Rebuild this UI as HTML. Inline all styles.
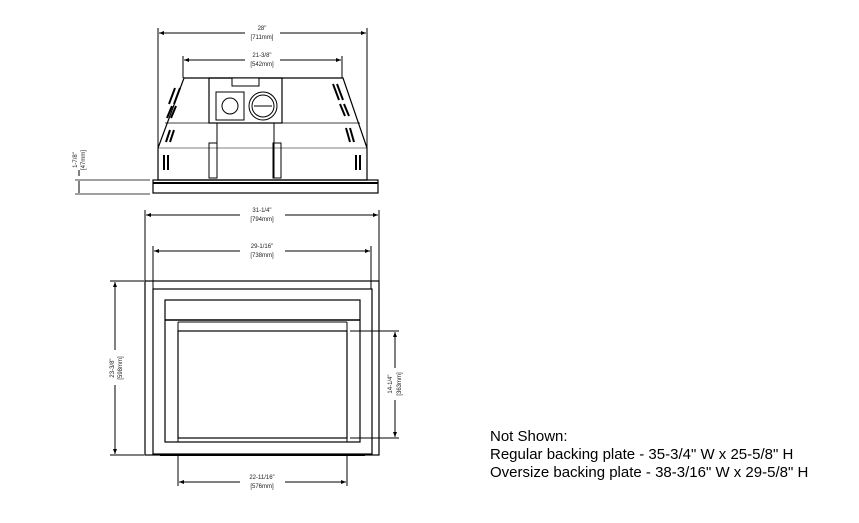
<!DOCTYPE html>
<html><head><meta charset="utf-8"><style>
html,body{margin:0;padding:0;background:#fff;}
svg{display:block}
.t{font-family:"Liberation Sans",sans-serif;font-size:6px;fill:#222}
.n{font-family:"Liberation Sans",sans-serif;font-size:15px;fill:#000}
</style></head><body>
<svg width="859" height="523" viewBox="0 0 859 523" xmlns="http://www.w3.org/2000/svg">
<defs>
<marker id="a" markerWidth="6" markerHeight="6" refX="5" refY="3" orient="auto-start-reverse" markerUnits="userSpaceOnUse"><path d="M0,1 L5,3 L0,5z" fill="#000"/></marker>
</defs>
<g stroke="#000" fill="none" stroke-width="1">
<line x1="158" y1="28" x2="158" y2="148"/><line x1="367" y1="28" x2="367" y2="148"/>
<line x1="159" y1="33" x2="245" y2="33" marker-start="url(#a)"/><line x1="280" y1="33" x2="366" y2="33" marker-end="url(#a)"/>
<line x1="183" y1="56" x2="183" y2="78"/><line x1="342" y1="56" x2="342" y2="78"/>
<line x1="184" y1="60" x2="245" y2="60" marker-start="url(#a)"/><line x1="280" y1="60" x2="341" y2="60" marker-end="url(#a)"/>
<path d="M184,78 L343,78 L367,148 L367,180 L158,180 L158,148 Z" stroke-width="1.2"/>
<line x1="158" y1="148" x2="367" y2="148" stroke-width="0.6"/>
<line x1="165" y1="123" x2="360" y2="123" stroke-width="0.8"/>
<rect x="153" y="180" width="225" height="13" stroke-width="1.2"/>
<line x1="153" y1="183" x2="378" y2="183" stroke-width="2"/>
<rect x="209" y="78" width="73" height="45" stroke-width="1.2"/>
<rect x="232" y="78" width="27" height="8" fill="#fff"/>
<rect x="216" y="92" width="28" height="28"/>
<circle cx="230" cy="106" r="8"/><circle cx="263" cy="106" r="14"/><circle cx="263" cy="106" r="11"/>
<line x1="254" y1="106" x2="272" y2="106"/>
<rect x="209" y="143" width="8" height="35"/><rect x="273" y="143" width="8" height="35"/>
<line x1="217" y1="123" x2="217" y2="178"/><line x1="274" y1="123" x2="274" y2="178"/>
<g stroke-width="2">
<line x1="175" y1="88" x2="169" y2="104"/><line x1="180" y1="88" x2="174" y2="104"/>
<line x1="172" y1="106" x2="167" y2="118"/><line x1="176" y1="106" x2="171" y2="118"/>
<line x1="170" y1="130" x2="166" y2="142"/><line x1="174" y1="130" x2="170" y2="142"/>
<line x1="164" y1="155" x2="164" y2="170"/><line x1="168" y1="155" x2="168" y2="170"/>
<line x1="333" y1="84" x2="339" y2="100"/><line x1="337" y1="84" x2="343" y2="100"/>
<line x1="340" y1="104" x2="345" y2="116"/><line x1="344" y1="104" x2="349" y2="116"/>
<line x1="346" y1="128" x2="350" y2="142"/><line x1="350" y1="128" x2="354" y2="142"/>
<line x1="356" y1="155" x2="356" y2="170"/><line x1="360" y1="155" x2="360" y2="170"/>
</g>
<line x1="75" y1="180" x2="150" y2="180" stroke-width="0.7"/><line x1="75" y1="194" x2="150" y2="194" stroke-width="0.7"/>
<line x1="79" y1="181" x2="79" y2="193"/>
<line x1="79" y1="170" x2="79" y2="176"/>
<line x1="145" y1="210" x2="145" y2="281"/><line x1="379" y1="210" x2="379" y2="281"/>
<line x1="146" y1="215" x2="240" y2="215" marker-start="url(#a)"/><line x1="285" y1="215" x2="378" y2="215" marker-end="url(#a)"/>
<line x1="153" y1="246" x2="153" y2="289"/><line x1="371" y1="246" x2="371" y2="289"/>
<line x1="154" y1="251" x2="240" y2="251" marker-start="url(#a)"/><line x1="285" y1="251" x2="370" y2="251" marker-end="url(#a)"/>
<rect x="145" y="281" width="234" height="174" stroke-width="1.2"/>
<rect x="153" y="289" width="219" height="165" stroke-width="1.2"/>
<rect x="165" y="300" width="195" height="142" stroke-width="1.2"/>
<line x1="165" y1="320" x2="360" y2="320" stroke-width="1.5"/>
<line x1="178" y1="322" x2="347" y2="322"/>
<rect x="178" y="331" width="169" height="107" stroke-width="1.2"/>
<line x1="178" y1="322" x2="178" y2="442"/><line x1="347" y1="322" x2="347" y2="442"/>
<line x1="160" y1="455" x2="365" y2="455" stroke-width="2"/>
<line x1="110" y1="281" x2="144" y2="281"/><line x1="110" y1="455" x2="144" y2="455"/>
<line x1="115" y1="282" x2="115" y2="350" marker-start="url(#a)"/><line x1="115" y1="385" x2="115" y2="454" marker-end="url(#a)"/>
<line x1="350" y1="331" x2="399" y2="331"/><line x1="350" y1="438" x2="399" y2="438"/>
<line x1="395" y1="332" x2="395" y2="368" marker-start="url(#a)"/><line x1="395" y1="400" x2="395" y2="437" marker-end="url(#a)"/>
<line x1="178" y1="455" x2="178" y2="486"/><line x1="347" y1="455" x2="347" y2="486"/>
<line x1="179" y1="482" x2="240" y2="482" marker-start="url(#a)"/><line x1="285" y1="482" x2="346" y2="482" marker-end="url(#a)"/>
</g>
<g class="t" text-anchor="middle">
<text x="262" y="30">28"</text><text x="262" y="39">[711mm]</text>
<text x="262" y="57">21-3/8"</text><text x="262" y="66">[542mm]</text>
<text x="262" y="212">31-1/4"</text><text x="262" y="221">[794mm]</text>
<text x="262" y="248">29-1/16"</text><text x="262" y="257">[738mm]</text>
<text x="262" y="479">22-11/16"</text><text x="262" y="488">[576mm]</text>
<text transform="translate(114,368) rotate(-90)">23-3/8"</text>
<text transform="translate(122,368) rotate(-90)">[598mm]</text>
<text transform="translate(392,384) rotate(-90)">14-1/4"</text>
<text transform="translate(401,384) rotate(-90)">[363mm]</text>
<text transform="translate(77,160) rotate(-90)">1-7/8"</text>
<text transform="translate(85,160) rotate(-90)">[47mm]</text>
</g>
<text class="n" x="490" y="441">Not Shown:</text>
<text class="n" x="490" y="459">Regular backing plate - 35-3/4" W x 25-5/8" H</text>
<text class="n" x="490" y="477">Oversize backing plate - 38-3/16" W x 29-5/8" H</text>
</svg>
</body></html>
